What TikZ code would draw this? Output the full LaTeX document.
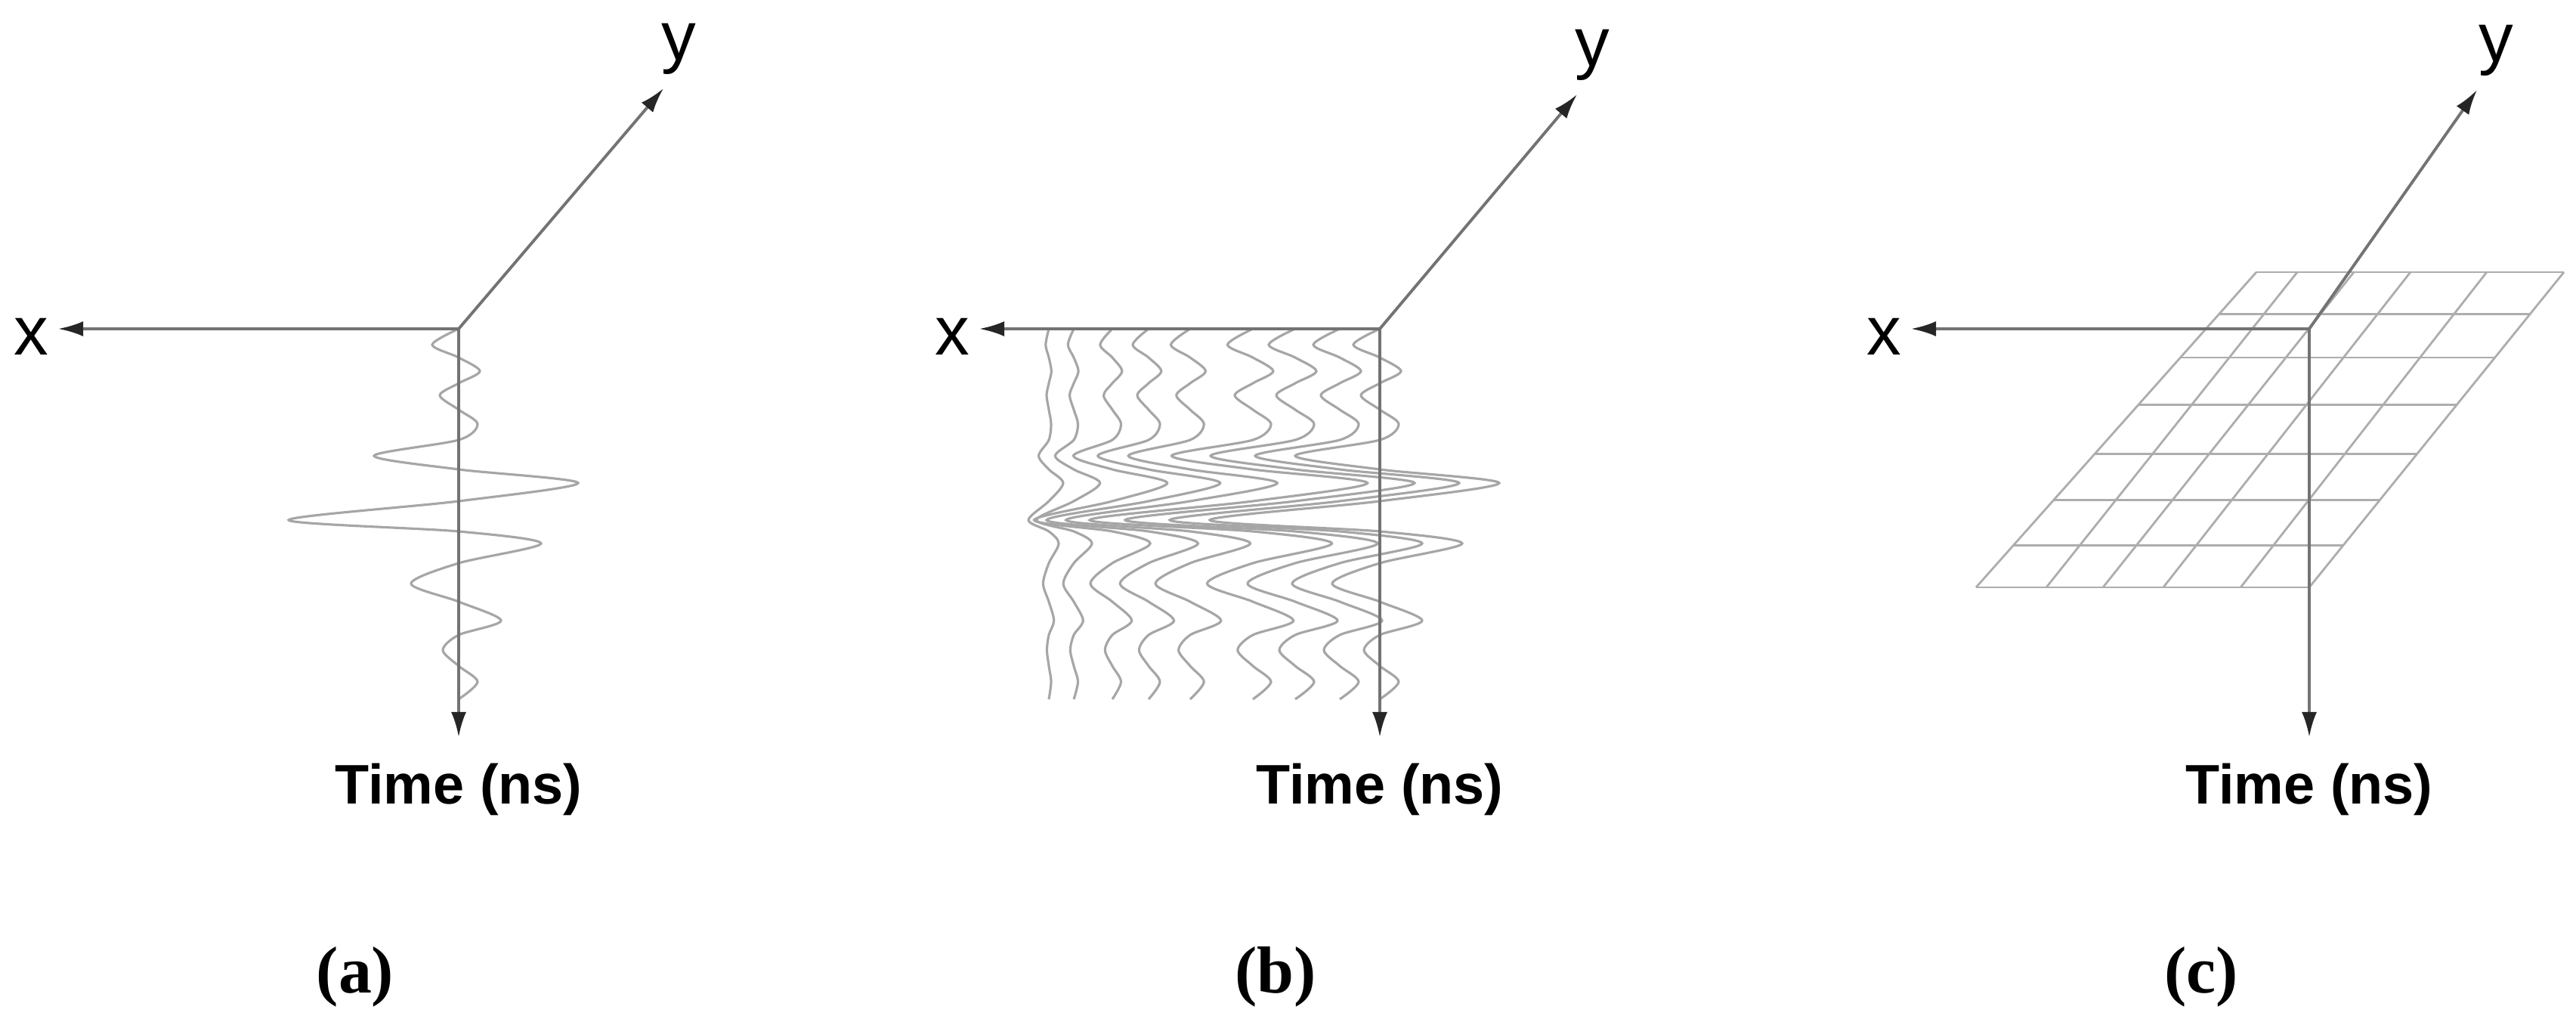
\documentclass[tikz,border=0pt]{standalone}
\usepackage{fontspec}
\setmainfont{Liberation Sans}
\newfontfamily\capfont{Liberation Serif}
\usetikzlibrary{arrows.meta,positioning,calc}

\newcommand{\wavepath}{plot[smooth] coordinates {(0,0) (-0.35,-0.21) (0,-0.38)
  (0.28,-0.56) (0,-0.72) (-0.25,-0.88) (0,-1.07) (0.25,-1.26) (0,-1.47)
  (-1.12,-1.68) (0,-1.86) (1.58,-2.04) (0,-2.28) (-2.25,-2.53) (0,-2.68)
  (1.09,-2.84) (0,-3.10) (-0.63,-3.37) (0,-3.61) (0.56,-3.86) (0,-4.05)
  (-0.21,-4.25) (0,-4.46) (0.25,-4.67) (0,-4.90)}}

\begin{document}
\begin{tikzpicture}
[
    axis/.style      = {line width=1.1pt, draw=black!55,
                        -{Latex[length=3.3mm, width=2mm, color=black!85]}},
    wave/.style      = {line width=0.9pt, draw=black!35},
    gridline/.style  = {line width=0.8pt, draw=black!32},
    axlabel/.style   = {inner sep=0pt,
                        font=\fontsize{26}{30}\selectfont},
    timelabel/.style = {inner sep=0pt,
                        font=\fontsize{21}{25}\selectfont\bfseries},
    caplabel/.style  = {inner sep=0pt,
                        font=\fontsize{25}{30}\selectfont\capfont\bfseries}
]
\useasboundingbox (0,0) rectangle (34.09,-13.52);

\coordinate (oa) at (6.07,-4.35);
\coordinate (xa) at (0.77,-4.35);
\coordinate (ya) at (8.78,-1.17);
\coordinate (ta) at (6.07,-9.75);

\coordinate (ob) at (18.26,-4.35);
\coordinate (xb) at (12.96,-4.35);
\coordinate (yb) at (20.87,-1.25);
\coordinate (tb) at (18.26,-9.75);

\coordinate (oc) at (30.56,-4.35);
\coordinate (xc) at (25.29,-4.35);
\coordinate (yc) at (32.78,-1.19);
\coordinate (tc) at (30.56,-9.75);

\draw[wave, shift={(oa)}] \wavepath;

\begin{scope}[shift={(ob)}]
\foreach \c/\g in {-4.38/0.12, -4.05/0.22, -3.54/0.46, -3.06/0.6, -2.51/0.73,
                   -1.68/0.96, -1.12/1, -0.53/1, 0/1}
    \draw[wave, xshift=\c cm, xscale=\g] \wavepath;
\end{scope}

\coordinate (gtl) at (29.86,-3.60);
\coordinate (gtr) at (33.93,-3.60);
\coordinate (gbl) at (26.15,-7.77);
\coordinate (gbr) at (30.56,-7.77);

\foreach \t in {0, 0.134, 0.271, 0.420, 0.576, 0.724, 0.866, 1}
    \draw[gridline] ($(gtl)!\t!(gbl)$) -- ($(gtr)!\t!(gbr)$);
\foreach \a/\b in {0/0, 0.133/0.211, 0.317/0.381, 0.501/0.562, 0.749/0.794, 1/1}
    \draw[gridline] ($(gtl)!\a!(gtr)$) -- ($(gbl)!\b!(gbr)$);

\draw[axis] (oa) -- (xa);
\draw[axis] (oa) -- (ya);
\draw[axis] (oa) -- (ta);

\draw[axis] (ob) -- (xb);
\draw[axis] (ob) -- (yb);
\draw[axis] (ob) -- (tb);

\draw[axis] (oc) -- (xc);
\draw[axis] (oc) -- (yc);
\draw[axis] (oc) -- (tc);

\node (lxa) [axlabel, left=1.2mm of xa, yshift=-1mm] {x};
\node (lya) [axlabel, above=1.8mm of ya, xshift=2mm] {y};
\node (lta) [timelabel, below=3.4mm of ta] {Time (ns)};

\node (lxb) [axlabel, left=1.2mm of xb, yshift=-1mm] {x};
\node (lyb) [axlabel, above=1.8mm of yb, xshift=2mm] {y};
\node (ltb) [timelabel, below=3.4mm of tb] {Time (ns)};

\node (lxc) [axlabel, left=1.2mm of xc, yshift=-1mm] {x};
\node (lyc) [axlabel, above=1.8mm of yc, xshift=2.5mm] {y};
\node (ltc) [timelabel, below=3.4mm of tc] {Time (ns)};

\node (ca) [caplabel] at (4.70,-12.92) {(a)};
\node (cb) [caplabel] at (16.88,-12.92) {(b)};
\node (cc) [caplabel] at (29.13,-12.92) {(c)};

\end{tikzpicture}
\end{document}
